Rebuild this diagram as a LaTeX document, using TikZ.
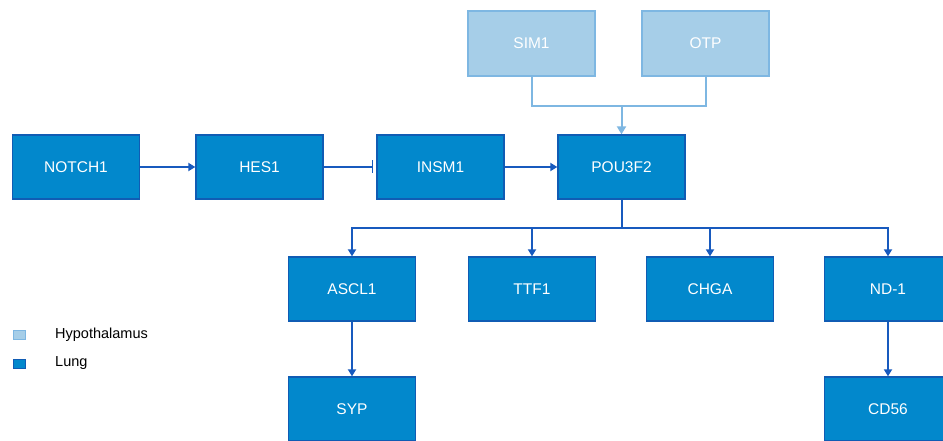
\documentclass[tikz,border=0pt]{standalone}
\usepackage{fontspec}
\setmainfont{Liberation Sans}
\usetikzlibrary{arrows.meta}
\definecolor{lungfill}{RGB}{2,136,204}
\definecolor{lungline}{RGB}{16,92,180}
\definecolor{hypofill}{RGB}{166,206,232}
\definecolor{hypoline}{RGB}{126,183,226}
\definecolor{darkarrow}{RGB}{24,90,190}
\tikzset{
  lung/.style={draw=lungline, fill=lungfill, line width=1.3pt, minimum width=127pt, minimum height=64pt, inner sep=0pt, text=white, font=\fontsize{15.5}{18}\selectfont},
  hypo/.style={draw=hypoline, fill=hypofill, line width=1.3pt, minimum width=127pt, minimum height=65pt, inner sep=0pt, text=white, font=\fontsize{15.5}{18}\selectfont},
  arr/.style={draw=darkarrow, line width=1.7pt, -{Triangle[length=7pt,width=8pt]}},
  inh/.style={draw=darkarrow, line width=1.7pt, -{Bar[width=13pt,line width=1.7pt]}, shorten >=3pt},
  plainline/.style={draw=darkarrow, line width=2pt},
  harr/.style={draw=hypoline, line width=2pt, -{Triangle[length=8pt,width=9pt]}},
  hline/.style={draw=hypoline, line width=2pt},
  legtext/.style={font=\fontsize{14.5}{17}\selectfont, text=black, anchor=base west, inner sep=0pt},
}
\begin{document}
\begin{tikzpicture}[x=1pt,y=-1pt]
\path[use as bounding box, clip] (0,0) rectangle (943,441);
\fill[white] (0,0) rectangle (943,441);
% nodes
\node[hypo] (sim1) at (531.5,43.5) {SIM1};
\node[hypo] (otp) at (705.5,43.5) {OTP};
\node[lung] (notch1) at (76,167) {NOTCH1};
\node[lung] (hes1) at (259.5,167) {HES1};
\node[lung] (insm1) at (440.5,167) {INSM1};
\node[lung] (pou) at (621.5,167) {POU3F2};
\node[lung] (ascl1) at (352,289) {ASCL1};
\node[lung] (ttf1) at (532,289) {TTF1};
\node[lung] (chga) at (710,289) {CHGA};
\node[lung] (nd1) at (888,289) {ND-1};
\node[lung] (syp) at (352,409) {SYP};
\node[lung] (cd56) at (888,409) {CD56};
% hypothalamus merge
\coordinate (hm) at (621.5,106);
\draw[hline] (sim1.south) |- (hm) -| (otp.south);
\draw[harr] (hm) -- (pou.north);
% main chain
\draw[arr] (notch1) -- (hes1);
\draw[inh] (hes1) -- (insm1);
\draw[arr] (insm1) -- (pou);
% branch
\coordinate (br) at (621.5,228);
\draw[plainline] (pou.south) -- (br);
\draw[arr] (br) -| (ascl1.north);
\draw[arr] (br) -| (ttf1.north);
\draw[arr] (br) -| (chga.north);
\draw[arr] (br) -| (nd1.north);
\draw[arr] (ascl1) -- (syp);
\draw[arr] (nd1) -- (cd56);
% legend
\node[draw=hypoline, fill=hypofill, line width=0.8pt, minimum width=12pt, minimum height=9pt, inner sep=0pt] (lh) at (19.5,335) {};
\node[draw=lungline, fill=lungfill, line width=0.8pt, minimum width=12pt, minimum height=9pt, inner sep=0pt] (ll) at (19.5,363.5) {};
\node[legtext] (lht) at (55,338) {Hypothalamus};
\node[legtext] (llt) at (55,366) {Lung};
\end{tikzpicture}
\end{document}
